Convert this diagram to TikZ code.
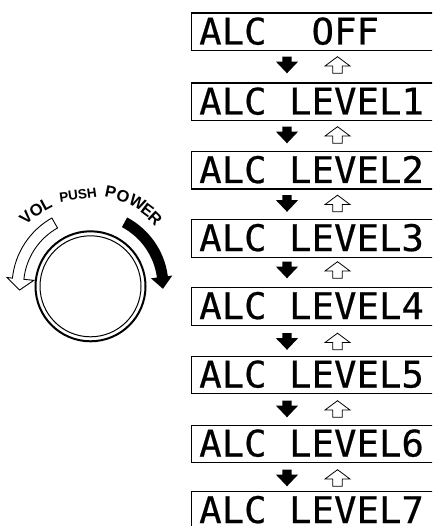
\documentclass[tikz,border=0pt]{standalone}
\usepackage{fontspec}
\setmainfont{Liberation Sans}
\newfontfamily\lcdfont[FakeStretch=1.02,FakeBold=0.5]{DejaVu Sans Mono}
\begin{document}
\begin{tikzpicture}[x=1pt,y=1pt,
  lcdbox/.style={draw, line width=1.3pt, minimum width=260pt, minimum height=37.5pt, anchor=north west, inner sep=0pt},
  lcdtext/.style={anchor=base west, inner sep=0pt, font=\lcdfont\fontsize{36.6}{40}\selectfont},
  knoblabel/.style={inner sep=0pt, font=\bfseries\fontsize{16.5}{18}\selectfont},
  pushlabel/.style={inner sep=0pt, font=\bfseries\fontsize{13.5}{15}\selectfont},
  downarrow/.style={fill=black},
  uparrow/.style={draw=black, fill=white, line width=0.8pt, line join=miter},
  openarc/.style={draw=black, fill=white, line width=0.9pt, line join=miter},
  filledarc/.style={fill=black}]
\useasboundingbox (0,0) rectangle (432,-526);
\clip (0,0) rectangle (432,-526);
% LCD boxes and texts
\foreach \t/\s [count=\i] in {12.5/{ALC~~OFF},82.5/{ALC~LEVEL1},151/{ALC~LEVEL2},219/{ALC~LEVEL3},287/{ALC~LEVEL4},355.5/{ALC~LEVEL5},424.5/{ALC~LEVEL6},491/{ALC~LEVEL7}} {
  \node[lcdbox] (bx\i) at (191,-\t) {};
  \node[lcdtext] (tx\i) at (199,{-\t-32}) {\s};
}
% arrows between boxes
\foreach \m in {65,135,203.5,270,341.5,409,478} {
  \fill[downarrow] (282.3,{-\m+8.3}) -- (291.7,{-\m+8.3}) -- (291.7,{-\m+3.3}) -- (298,{-\m+3.3})
     -- (287,{-\m-8.3}) -- (276,{-\m+3.3}) -- (282.3,{-\m+3.3}) -- cycle;
  \draw[uparrow] (337.5,{-\m+8.3}) -- (350,{-\m-1}) -- (342.2,{-\m-1}) -- (342.2,{-\m-8.3})
     -- (332.8,{-\m-8.3}) -- (332.8,{-\m-1}) -- (325,{-\m-1}) -- cycle;
}
% knob
\begin{scope}[shift={(90.5,-286.3)}]
  \coordinate (kc) at (0,0);
  \draw[line width=2pt] (kc) circle[radius=55pt];
  \draw[line width=1pt] (kc) circle[radius=50.5pt];
  \draw[openarc] (119.5:78.5) arc[start angle=119.5,end angle=174,radius=78.5pt]
     -- (174:84) -- (183:71) -- (174:57) -- (174:67)
     arc[start angle=174,end angle=119.5,radius=67pt] -- cycle;
  \fill[filledarc] (62:78) arc[start angle=62,end angle=7.5,radius=78pt]
     -- (7.5:82.5) -- (-2:72.5) -- (7.5:61) -- (7.5:67)
     arc[start angle=7.5,end angle=62,radius=67pt] -- cycle;
  \node[knoblabel, rotate=43.3] (v1) at (133.3:94) {V};
  \node[knoblabel, rotate=35.5] (v2) at (125.5:93.5) {O};
  \node[knoblabel, rotate=28.3] (v3) at (118.3:93.5) {L};
  \node[pushlabel, rotate=8] (push) at (97.8:92.3) {PUSH};
  \node[knoblabel, rotate=-12.2] (p1) at (77.8:96) {P};
  \node[knoblabel, rotate=-19.9] (p2) at (70.1:95.5) {O};
  \node[knoblabel, rotate=-29.2] (p3) at (60.8:96) {W};
  \node[knoblabel, rotate=-36.7] (p4) at (53.3:95.4) {E};
  \node[knoblabel, rotate=-43.7] (p5) at (46.3:93.5) {R};
\end{scope}
\end{tikzpicture}
\end{document}
